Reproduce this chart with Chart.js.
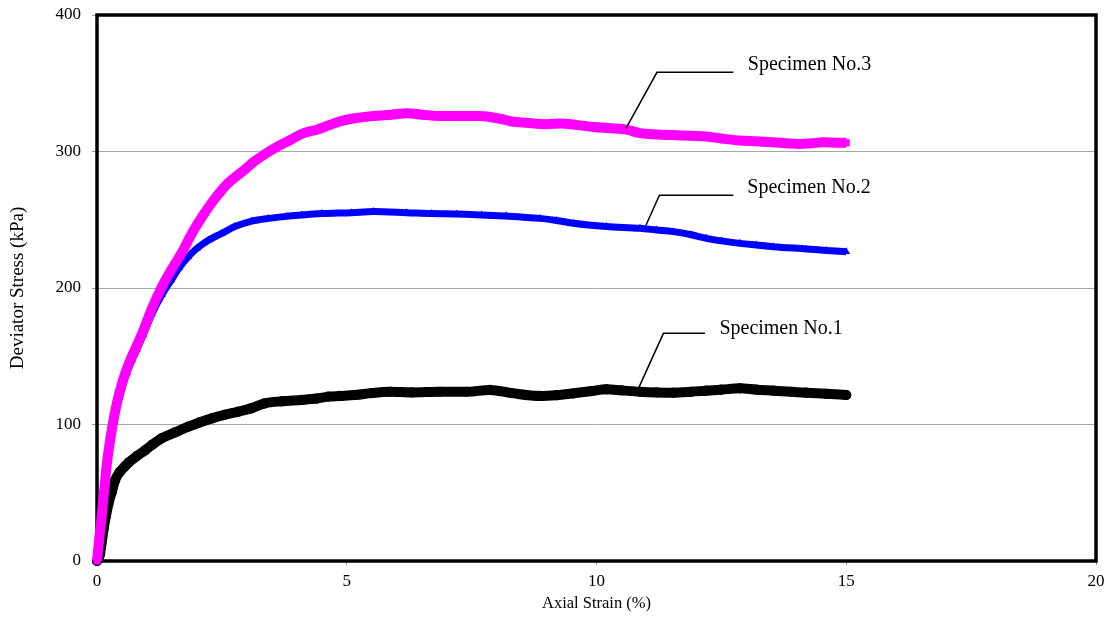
<!DOCTYPE html>
<html>
<head>
<meta charset="utf-8">
<script src="https://cdn.jsdelivr.net/npm/chart.js@4/dist/chart.umd.min.js"></script>
<style>
  html, body { margin: 0; padding: 0; background: #ffffff; }
  #wrap { width: 1108px; height: 617px; position: relative; }
</style>
</head>
<body>
<div id="wrap"><canvas id="c"></canvas></div>
<script>
// Axial strain (%) and deviator stress (kPa) for each triaxial specimen
const strainNo1 = [0, 0.06, 0.1, 0.13, 0.18, 0.23, 0.3, 0.36, 0.45, 0.55, 0.63, 0.8, 0.96, 1.1, 1.3, 1.55, 1.83, 2.05, 2.3, 2.55, 2.83, 3.1, 3.36, 3.7, 4.1, 4.4, 4.63, 4.86, 5.17, 5.5, 5.87, 6.3, 6.87, 7.4, 7.87, 8.3, 8.87, 9.2, 9.54, 9.9, 10.2, 10.5, 10.87, 11.2, 11.54, 11.9, 12.2, 12.5, 12.87, 13.2, 13.54, 13.9, 14.2, 14.6, 15.0];
const stressNo1 = [0, 5, 15, 23, 33, 42, 51, 59, 65, 69, 72, 77, 81, 85, 90, 94, 98.4, 101.5, 104.5, 107, 109.4, 112, 115.5, 117, 118, 119, 120.4, 120.9, 121.6, 123, 124, 123.5, 124, 124, 125.3, 123, 120.9, 121.5, 122.8, 124.5, 125.8, 125, 124, 123.5, 123.3, 124, 124.8, 125.5, 126.5, 125.5, 124.8, 124, 123.3, 122.5, 121.6];

const strainNo2 = [0, 0.05, 0.1, 0.15, 0.2, 0.3, 0.4, 0.5, 0.6, 0.7, 0.8, 0.93, 1.1, 1.3, 1.49, 1.65, 1.83, 2.0, 2.23, 2.5, 2.76, 3.1, 3.43, 3.8, 4.1, 4.5, 5.1, 5.53, 6.2, 6.7, 7.2, 7.7, 8.2, 8.87, 9.2, 9.54, 10.2, 10.87, 11.2, 11.54, 11.9, 12.2, 12.5, 12.87, 13.2, 13.54, 14.2, 14.6, 15.0];
const stressNo2 = [0, 17, 33, 51, 69, 94, 113, 127, 138, 147, 155, 166, 181, 195, 206, 215, 223, 229, 235, 240, 245, 249, 251, 252.5, 253.5, 254.5, 255.2, 256, 255.2, 254.5, 254.2, 253.5, 252.7, 251, 249.5, 247.4, 245, 243.7, 242.5, 241.3, 239, 236.4, 234.5, 232.7, 231.5, 230.3, 228.6, 227.5, 226.6];

const strainNo3 = [0, 0.05, 0.1, 0.15, 0.2, 0.3, 0.4, 0.5, 0.6, 0.7, 0.8, 0.93, 1.1, 1.3, 1.5, 1.7, 1.9, 2.1, 2.35, 2.63, 2.9, 3.16, 3.4, 3.63, 3.9, 4.1, 4.4, 4.63, 4.86, 5.1, 5.53, 5.9, 6.2, 6.5, 6.87, 7.3, 7.67, 8.07, 8.3, 8.6, 9.0, 9.27, 9.6, 9.94, 10.3, 10.6, 10.87, 11.2, 11.54, 11.9, 12.2, 12.5, 12.87, 13.2, 13.54, 13.8, 14.07, 14.3, 14.54, 14.8, 15.0];
const stressNo3 = [0, 18, 35, 54, 72, 97, 116, 130, 141, 150, 158, 169, 185, 201, 214, 226, 240, 252, 265, 277, 285, 293, 299, 304, 309, 313, 316, 319, 322, 324, 326, 327, 328, 327, 326, 326, 326, 324, 322, 321, 320, 320.5, 319.5, 318, 317, 316, 313.5, 312.5, 312, 311.5, 311, 309.5, 308, 307.5, 306.7, 306, 305.5, 306, 306.7, 306.5, 306.4];

const seriesNames = ['Specimen No.3', 'Specimen No.2', 'Specimen No.1'];
const yTicks = [0, 100, 200, 300, 400];
const xTicks = [0, 5, 10, 15, 20];

const toPoints = (xs, ys) => xs.map((x, i) => ({ x: x, y: ys[i] }));

// Callout labels with leader lines: tip on the curve, elbow, end of shelf, text anchor (data units)
const callouts = [
  { text: seriesNames[0], tip: [10.59, 317], elbow: [11.21, 358], end: [12.74, 358], label: [13.03, 363.4] },
  { text: seriesNames[1], tip: [10.99, 246], elbow: [11.26, 268], end: [12.74, 268], label: [13.02, 273.8] },
  { text: seriesNames[2], tip: [10.84, 126.5], elbow: [11.34, 166.8], end: [12.17, 166.8], label: [12.46, 170.5] }
];

const serif = "'Liberation Serif', 'Times New Roman', serif";

const framePlugin = {
  id: 'frame',
  beforeDatasetsDraw(chart) {
    const { ctx, chartArea: a } = chart;
    ctx.save();
    ctx.strokeStyle = '#000';
    ctx.lineWidth = 3.5;
    ctx.strokeRect(a.left, a.top, a.right - a.left, a.bottom - a.top);
    ctx.restore();
  }
};

const calloutPlugin = {
  id: 'callouts',
  afterDatasetsDraw(chart) {
    const { ctx, scales: { x, y } } = chart;
    const px = p => [x.getPixelForValue(p[0]), y.getPixelForValue(p[1])];
    ctx.save();
    ctx.strokeStyle = '#000';
    ctx.lineWidth = 1.5;
    ctx.fillStyle = '#000';
    ctx.font = '20px ' + serif;
    ctx.textAlign = 'left';
    ctx.textBaseline = 'middle';
    callouts.forEach(c => {
      const t = px(c.tip), e = px(c.elbow), n = px(c.end), l = px(c.label);
      ctx.beginPath();
      ctx.moveTo(t[0], t[1]);
      ctx.lineTo(e[0], e[1]);
      ctx.lineTo(n[0], n[1]);
      ctx.stroke();
      ctx.fillText(c.text, l[0], l[1]);
    });
    ctx.restore();
  }
};

new Chart(document.getElementById('c'), {
  type: 'line',
  data: {
    datasets: [
      {
        label: seriesNames[0],
        data: toPoints(strainNo3, stressNo3),
        borderColor: '#ff00ff',
        backgroundColor: '#ff00ff',
        borderWidth: 10,
        pointStyle: 'rect',
        pointRadius: 5,
        pointBorderWidth: 0,
        cubicInterpolationMode: 'monotone'
      },
      {
        label: seriesNames[1],
        data: toPoints(strainNo2, stressNo2),
        borderColor: '#0000ff',
        backgroundColor: '#0000ff',
        borderWidth: 7,
        pointStyle: 'triangle',
        pointRadius: 4.5,
        pointBorderWidth: 0,
        cubicInterpolationMode: 'monotone'
      },
      {
        label: seriesNames[2],
        data: toPoints(strainNo1, stressNo1),
        borderColor: '#000000',
        backgroundColor: 'rgba(0,0,0,0)',
        borderWidth: 10,
        borderCapStyle: 'round',
        pointStyle: 'circle',
        pointRadius: 4.5,
        pointBorderWidth: 1.2,
        pointBorderColor: '#000000',
        cubicInterpolationMode: 'monotone'
      }
    ]
  },
  options: {
    responsive: true,
    maintainAspectRatio: false,
    animation: false,
    clip: false,
    layout: { padding: { top: 15, right: 12, left: 0, bottom: 0 } },
    plugins: {
      legend: { display: false },
      tooltip: { enabled: false }
    },
    scales: {
      x: {
        type: 'linear',
        min: 0,
        max: 20,
        afterFit(scale) {
          scale.height = 56;
          scale.paddingLeft = 0;
          scale.paddingRight = 0;
        },
        afterBuildTicks(scale) { scale.ticks = xTicks.map(v => ({ value: v })); },
        grid: { drawOnChartArea: false, drawTicks: true, tickLength: 4, tickColor: '#9a9a9a' },
        border: { display: false },
        ticks: { color: '#000', font: { family: serif, size: 17 }, padding: 6, maxRotation: 0 },
        title: { display: true, text: 'Axial Strain (%)', color: '#000', font: { family: serif, size: 16.5, lineHeight: 1.2 }, padding: { top: 0, bottom: 3 } }
      },
      y: {
        type: 'linear',
        min: 0,
        max: 400,
        afterFit(scale) {
          scale.width = 97;
          scale.paddingTop = 0;
          scale.paddingBottom = 0;
        },
        afterBuildTicks(scale) { scale.ticks = yTicks.map(v => ({ value: v })); },
        grid: {
          color: ctx => (ctx.tick && (ctx.tick.value === 0 || ctx.tick.value === 400)) ? 'rgba(0,0,0,0)' : '#a6a6a6',
          lineWidth: 1,
          drawTicks: true,
          tickLength: 5,
          tickColor: '#9a9a9a'
        },
        border: { display: false },
        ticks: { color: '#000', font: { family: serif, size: 17 }, padding: 11 },
        title: { display: true, text: 'Deviator Stress (kPa)', color: '#000', font: { family: serif, size: 19, lineHeight: 1.2 }, padding: { top: 7, bottom: 0 } }
      }
    }
  },
  plugins: [framePlugin, calloutPlugin]
});
</script>
</body>
</html>
